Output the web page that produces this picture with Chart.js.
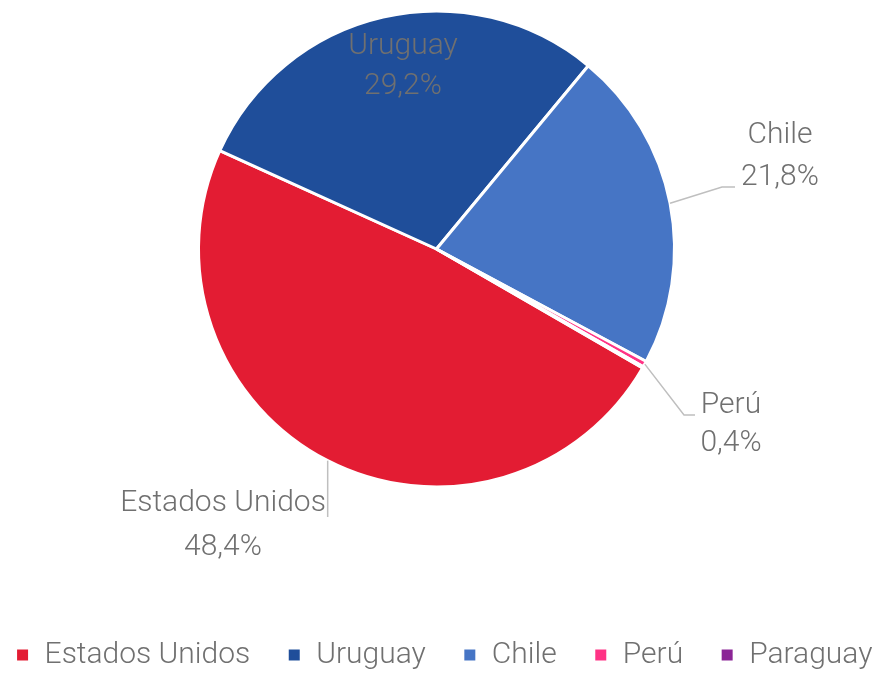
<!DOCTYPE html>
<html>
<head>
<meta charset="utf-8">
<script src="https://cdn.jsdelivr.net/npm/chart.js@4/dist/chart.umd.min.js"></script>
<style>
  html, body { margin: 0; padding: 0; background: #ffffff; }
  #wrap { width: 873px; height: 674px; }
</style>
</head>
<body>
<div id="wrap"><canvas id="c" width="873" height="674"></canvas></div>
<script>
// ---- data ----
const categories = ['Estados Unidos', 'Uruguay', 'Chile', 'Perú', 'Paraguay'];
const shares = [48.4, 29.2, 21.8, 0.4, 0.1];
const sliceColors = ['#E31C33', '#1F4E9A', '#4675C5', '#FF3385', '#8B2596'];

const FONT = "Roboto, 'Open Sans', 'Liberation Sans', sans-serif";
const TEXT_COLOR = '#707070';

// label placement (layout only)
const labelLayout = [
  { x: 223, y1: 503, y2: 547, leader: 'down', leaderEnd: 517 },
  { x: 403, y1: 46, y2: 86, leader: null },
  { x: 780, y1: 135, y2: 177, leader: [[722, 187], [735, 187]] },
  { x: 731, y1: 405, y2: 443, leader: [[684, 415], [695, 415]] },
  null
];

const fmt = v => v.toFixed(1).replace('.', ',') + '%';

const labelPlugin = {
  id: 'sliceLabels',
  afterDatasetsDraw(chart) {
    const ctx = chart.ctx;
    const meta = chart.getDatasetMeta(0);
    ctx.save();
    meta.data.forEach((arc, i) => {
      const L = labelLayout[i];
      if (!L) return;
      const p = arc.getProps(['x', 'y', 'startAngle', 'endAngle', 'outerRadius'], true);
      const mid = (p.startAngle + p.endAngle) / 2;
      const sx = p.x + Math.cos(mid) * p.outerRadius;
      const sy = p.y + Math.sin(mid) * p.outerRadius;
      if (L.leader) {
        ctx.strokeStyle = '#BFBFBF';
        ctx.lineWidth = 1.5;
        ctx.beginPath();
        ctx.moveTo(sx, sy);
        if (L.leader === 'down') {
          ctx.lineTo(sx, L.leaderEnd);
        } else {
          L.leader.forEach(pt => ctx.lineTo(pt[0], pt[1]));
        }
        ctx.stroke();
      }
      ctx.fillStyle = TEXT_COLOR;
      ctx.font = '300 30px ' + FONT;
      ctx.textAlign = 'center';
      ctx.textBaseline = 'middle';
      ctx.fillText(categories[i], L.x, L.y1);
      ctx.fillText(fmt(shares[i]), L.x, L.y2);
    });
    ctx.restore();
  }
};

new Chart(document.getElementById('c'), {
  type: 'pie',
  data: {
    labels: categories,
    datasets: [{
      data: shares,
      backgroundColor: sliceColors,
      borderColor: '#ffffff',
      borderWidth: 3
    }]
  },
  options: {
    responsive: false,
    animation: false,
    rotation: 120,
    radius: 238,
    layout: { padding: { top: 0, bottom: -6, left: -30, right: -45 } },
    plugins: {
      tooltip: { enabled: false },
      legend: {
        position: 'bottom',
        title: {
          display: true,
          text: '',
          font: { size: 10 },
          padding: { top: 0, bottom: 93 }
        },
        labels: {
          boxWidth: 14,
          boxHeight: 14,
          padding: 37,
          color: TEXT_COLOR,
          font: { family: FONT, size: 30, weight: '300' }
        }
      }
    }
  },
  plugins: [labelPlugin]
});
</script>
</body>
</html>
